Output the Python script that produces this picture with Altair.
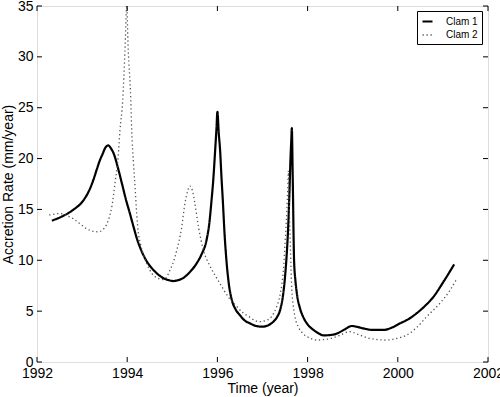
import altair as alt
import pandas as pd

# ---- data ----
clam1_year = [1992.33, 1992.55, 1992.80, 1993.03, 1993.15, 1993.25, 1993.33, 1993.40, 1993.45,
              1993.52, 1993.58, 1993.64, 1993.70, 1993.80, 1993.88, 1993.97, 1994.06, 1994.14,
              1994.21, 1994.30, 1994.42, 1994.58, 1994.70, 1994.80, 1994.92, 1995.02, 1995.13,
              1995.24, 1995.38, 1995.54, 1995.65, 1995.76, 1995.82, 1995.87, 1995.91, 1995.95,
              1995.98, 1996.00, 1996.03, 1996.06, 1996.09, 1996.12, 1996.16, 1996.20, 1996.25,
              1996.32, 1996.40, 1996.50, 1996.60, 1996.72, 1996.85, 1997.00, 1997.12, 1997.24,
              1997.32, 1997.39, 1997.45, 1997.50, 1997.54, 1997.57, 1997.60, 1997.62, 1997.64,
              1997.65, 1997.67, 1997.70, 1997.73, 1997.76, 1997.83, 1997.90, 1998.00, 1998.13,
              1998.25, 1998.35, 1998.50, 1998.65, 1998.82, 1998.98, 1999.10, 1999.24, 1999.45,
              1999.68, 1999.85, 2000.05, 2000.25, 2000.42, 2000.60, 2000.79, 2001.00, 2001.25]
clam1_rate = [13.9, 14.3, 14.95, 15.9, 16.8, 17.9, 19.0, 19.9, 20.4,
              21.1, 21.3, 21.0, 20.5, 19.0, 17.6, 16.0, 14.6, 13.3,
              12.2, 11.1, 10.0, 9.05, 8.55, 8.25, 8.05, 7.96, 8.05,
              8.25, 8.8, 9.7, 10.6, 12.0, 13.6, 15.9, 18.0, 20.8,
              23.0, 24.6, 22.5, 20.8, 18.2, 15.9, 12.5, 10.0, 7.8,
              6.1, 5.2, 4.6, 4.1, 3.8, 3.55, 3.47, 3.6, 3.96,
              4.4, 5.1, 6.4, 8.4, 10.8, 13.3, 17.0, 19.9, 22.0,
              23.0, 18.2, 10.0, 8.0, 6.8, 5.3, 4.45, 3.7, 3.15,
              2.8, 2.62, 2.65, 2.8, 3.2, 3.54, 3.45, 3.3, 3.15,
              3.15, 3.35, 3.8, 4.25, 4.8, 5.5, 6.4, 7.8, 9.6]

clam2_year = [1992.27, 1992.40, 1992.51, 1992.65, 1992.80, 1992.95, 1993.10, 1993.25, 1993.36,
              1993.46, 1993.54, 1993.60, 1993.66, 1993.73, 1993.80, 1993.84, 1993.90, 1993.95,
              1993.99, 1994.02, 1994.08, 1994.10, 1994.14, 1994.18, 1994.21, 1994.25, 1994.30,
              1994.43, 1994.55, 1994.70, 1994.80, 1994.88, 1994.95, 1995.03, 1995.10, 1995.21,
              1995.28, 1995.34, 1995.39, 1995.45, 1995.50, 1995.58, 1995.69, 1995.84, 1995.95,
              1996.06, 1996.24, 1996.40, 1996.55, 1996.72, 1996.85, 1996.94, 1997.05, 1997.17,
              1997.25, 1997.31, 1997.38, 1997.43, 1997.47, 1997.50, 1997.54, 1997.56, 1997.575,
              1997.59, 1997.62, 1997.65, 1997.68, 1997.72, 1997.80, 1997.90, 1998.05, 1998.20,
              1998.35, 1998.50, 1998.70, 1998.94, 1999.10, 1999.31, 1999.55, 1999.75, 2000.00,
              2000.20, 2000.42, 2000.64, 2000.94, 2001.15, 2001.31]
clam2_rate = [14.45, 14.55, 14.6, 14.4, 14.1, 13.6, 13.1, 12.85, 12.8,
              13.0, 13.5, 14.2, 15.3, 17.6, 20.2, 22.8, 25.7, 30.5,
              35.0, 31.0, 25.7, 22.8, 19.5, 16.8, 14.6, 12.6, 11.5,
              9.7, 8.7, 8.2, 8.1, 8.4, 9.05, 9.9, 11.0, 13.3,
              15.6, 16.8, 17.3, 16.8, 15.6, 13.3, 11.0, 9.4, 8.5,
              7.7, 6.4, 5.6, 4.9, 4.4, 4.05, 3.96, 4.05, 4.3,
              4.8, 5.4, 6.4, 7.7, 9.4, 11.7, 14.9, 17.0, 18.8,
              16.0, 11.0, 7.1, 5.6, 4.45, 3.4, 2.8, 2.35, 2.16,
              2.2, 2.3, 2.6, 2.98, 2.75, 2.4, 2.2, 2.16, 2.35,
              2.65, 3.4, 4.45, 5.8, 7.0, 8.2]

x_ticks = [1992, 1994, 1996, 1998, 2000, 2002]
y_ticks = [0, 5, 10, 15, 20, 25, 30, 35]

series_names = ["Clam 1", "Clam 2"]

df = pd.concat([
    pd.DataFrame({"year": clam1_year, "rate": clam1_rate, "series": "Clam 1"}),
    pd.DataFrame({"year": clam2_year, "rate": clam2_rate, "series": "Clam 2"}),
])
xt = pd.DataFrame({"year": x_ticks})
yt = pd.DataFrame({"rate": y_ticks})

W, H = 451, 356
FONT = "Liberation Sans"

xscale = alt.Scale(domain=[1992, 2002], nice=False, zero=False)
yscale = alt.Scale(domain=[0, 35], nice=False, zero=True)

legend_cfg = dict(title=None, orient="none", legendX=380, legendY=5,
                  strokeColor="black", fillColor="white", padding=4,
                  symbolType="stroke", symbolSize=100, symbolStrokeWidth=1.8,
                  labelFontSize=10, labelFont=FONT, labelColor="black",
                  labelOffset=12, rowPadding=2, cornerRadius=0)

axis_common = dict(ticks=False, domain=False, grid=False, labelFlush=False,
                   labelFontSize=14, titleFontSize=14, labelFont=FONT, titleFont=FONT,
                   labelColor="black", titleColor="black", titleFontWeight="normal")

lines = alt.Chart(df).mark_line(interpolate="monotone", clip=True).encode(
    x=alt.X("year:Q", scale=xscale,
            axis=alt.Axis(title="Time (year)", values=x_ticks, format="d",
                          labelPadding=4, titlePadding=1, **axis_common)),
    y=alt.Y("rate:Q", scale=yscale,
            axis=alt.Axis(title="Accretion Rate (mm/year)", values=y_ticks,
                          labelPadding=4, titlePadding=2, **axis_common)),
    color=alt.Color("series:N", scale=alt.Scale(domain=series_names, range=["black", "#555555"]),
                    legend=alt.Legend(**legend_cfg)),
    strokeDash=alt.StrokeDash("series:N",
                              scale=alt.Scale(domain=series_names, range=[[1, 0], [1.3, 2.7]]),
                              legend=alt.Legend(**legend_cfg)),
    strokeWidth=alt.StrokeWidth("series:N", scale=alt.Scale(domain=series_names, range=[2.2, 1.3]),
                                legend=None),
)

tick_len = 5
bottom_ticks = alt.Chart(xt).mark_rule(color="black", strokeWidth=1).encode(
    x=alt.X("year:Q", scale=xscale), y=alt.value(H), y2=alt.value(H - tick_len))
top_ticks = alt.Chart(xt).mark_rule(color="black", strokeWidth=1).encode(
    x=alt.X("year:Q", scale=xscale), y=alt.value(0), y2=alt.value(tick_len))
left_ticks = alt.Chart(yt).mark_rule(color="black", strokeWidth=1).encode(
    y=alt.Y("rate:Q", scale=yscale), x=alt.value(0), x2=alt.value(tick_len))
right_ticks = alt.Chart(yt).mark_rule(color="black", strokeWidth=1).encode(
    y=alt.Y("rate:Q", scale=yscale), x=alt.value(W), x2=alt.value(W - tick_len))

chart = alt.layer(lines, bottom_ticks, top_ticks, left_ticks, right_ticks).properties(
    width=W, height=H,
    autosize=alt.AutoSizeParams(type="none"),
    padding={"left": 37, "top": 6, "right": 12, "bottom": 35},
).configure_view(stroke="black", strokeWidth=1).configure(background="white")

chart.save("out.html", embed_options={"renderer": "svg", "actions": False})
